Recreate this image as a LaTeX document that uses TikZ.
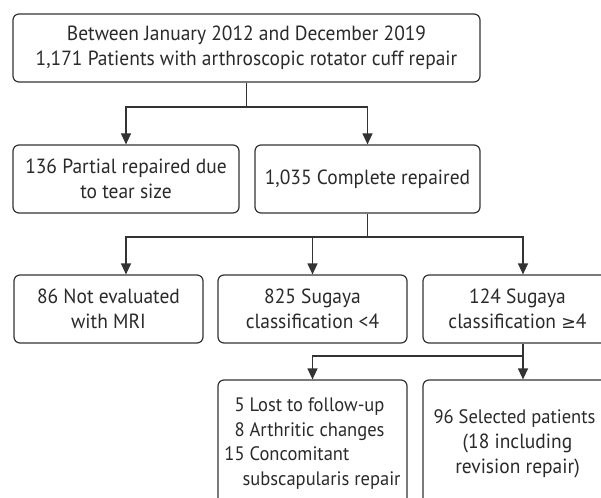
\documentclass[tikz,border=0pt]{standalone}
\usepackage{fontspec}
\setmainfont{PT Sans}[FakeStretch=0.95]
\newfontfamily\symfont{DejaVu Sans}[Scale=0.85]
\usetikzlibrary{arrows.meta}
\definecolor{linec}{HTML}{333333}
\definecolor{textc}{HTML}{2A2A2A}
\begin{document}
\begin{tikzpicture}[x=1pt,y=-1pt,
  box/.style={draw=linec, line width=1.2pt, rounded corners=6pt, align=center,
    text=textc, inner sep=0pt, font=\fontsize{20.5}{25}\selectfont},
  arr/.style={draw=linec, line width=1.2pt, -{Triangle[width=10pt,length=11pt]}},
  ln/.style={draw=linec, line width=1.2pt}]
\useasboundingbox (0,0) rectangle (601,497);
\clip (0,0) rectangle (601,497);
\node[box, minimum width=467pt, minimum height=68pt] (top) at (246.5,48)
  {Between January 2012 and December 2019\\1,171 Patients with arthroscopic rotator cuff repair};
\node[box, minimum width=226pt, minimum height=68pt] (p136) at (126,179)
  {136 Partial repaired due\\to tear size};
\node[box, minimum width=225pt, minimum height=68pt] (c1035) at (367.5,179)
  {1,035 Complete repaired};
\node[box, minimum width=189pt, minimum height=68pt] (n86) at (108.5,309)
  {86 Not evaluated\\with MRI};
\node[box, minimum width=189pt, minimum height=68pt] (s825) at (312.5,309)
  {825 Sugaya\\classification <4};
\node[box, minimum width=189pt, minimum height=68pt] (s124) at (517.5,309)
  {124 Sugaya\\classification {\symfont ≥}4};
\node[box, minimum width=189pt, minimum height=127pt] (lost) at (312.5,443.5)
  {\fontsize{19.5}{24.7}\selectfont
   \begin{tabular}{@{}r@{ }l@{}}5&Lost to follow-up\\8&Arthritic changes\\15&Concomitant\\&\hspace{-7pt}subscapularis repair\end{tabular}};
\node[box, minimum width=189pt, minimum height=127pt] (sel) at (517.5,443.5)
  {\hspace{-6pt}{\fontsize{19.5}{25}\selectfont 96 Selected patients}\\(18 including\\revision repair)};
% connectors
\coordinate (j1) at (246.5,107);
\draw[ln] (top.south) -- (j1);
\draw[arr] (j1) -| (p136.north);
\draw[arr] (j1) -| (c1035.north);
\coordinate (j2) at (367.5,237);
\draw[ln] (c1035.south) -- (j2);
\draw[arr] (j2) -| ([xshift=17.5pt]n86.north);
\draw[arr] (j2) -| (s825.north);
\draw[arr] (j2) -| ([xshift=5.5pt]s124.north);
\coordinate (j3) at (523,356);
\draw[ln] ([xshift=5.5pt]s124.south) -- (j3);
\draw[arr] (j3) -| (lost.north);
\draw[arr] (j3) -- ([xshift=5.5pt]sel.north);
\end{tikzpicture}
\end{document}
